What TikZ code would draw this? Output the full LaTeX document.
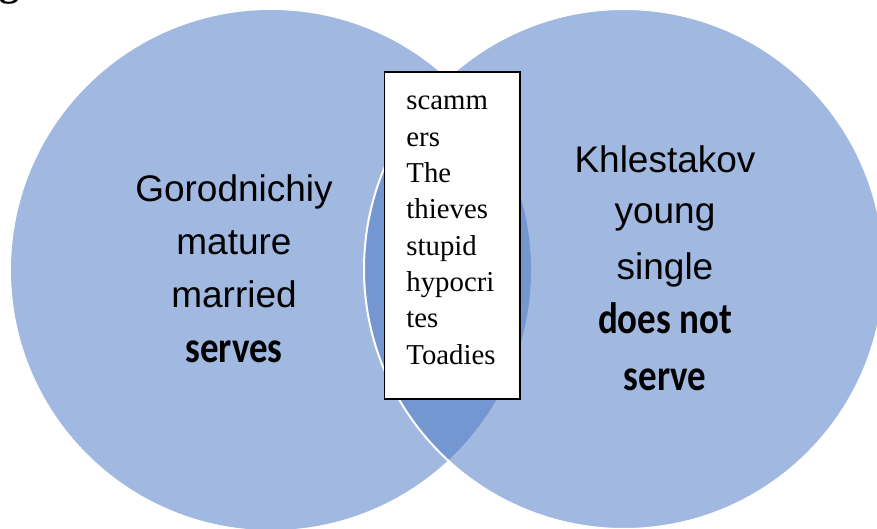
\documentclass[tikz,border=0pt]{standalone}
\usepackage{fontspec}
\setmainfont{Liberation Serif}
\newfontfamily\arialfont{Liberation Sans}
\newfontfamily\servefont[FakeStretch=0.84]{Carlito}
\definecolor{venn}{RGB}{161,184,225}
\definecolor{vennlens}{RGB}{116,150,209}
\tikzset{
  word/.style={anchor=base, inner sep=0pt, font=\arialfont\fontsize{18.5}{22}\selectfont},
  boldword/.style={anchor=base, inner sep=0pt, font=\servefont\bfseries\fontsize{22}{26}\selectfont},
  boxword/.style={anchor=base west, inner sep=0pt, font=\fontsize{14.4}{17}\selectfont}
}
\begin{document}
\begin{tikzpicture}[x=0.5pt,y=-0.5pt]
  \useasboundingbox (0,0) rectangle (877,529);
  % two circles and their overlap
  \fill[venn] (271,270) circle (130pt);
  \fill[venn] (624,269) circle (130pt);
  \begin{scope}
    \clip (271,270) circle (130pt);
    \fill[vennlens] (624,269) circle (130pt);
  \end{scope}
  \draw[white, line width=1pt] (624,269) circle (130pt);
  \node[inner sep=0pt, font=\bfseries\fontsize{20}{20}\selectfont, anchor=base] (head) at (9,-4.7) {g};
  % left circle
  \foreach \y/\txt [count=\i] in {201.7/Gorodnichiy, 255/mature, 307.7/married}
    \node[word] (gor\i) at (234,\y) {\txt};
  \node[boldword] (gor4) at (234,362.7) {serves};
  % right circle
  \foreach \y/\txt [count=\i] in {172.7/Khlestakov, 224/young, 279/single}
    \node[word] (khl\i) at (665,\y) {\txt};
  \node[boldword] (khl4) at (665,333.3) {does not};
  \node[boldword] (khl5) at (665,390) {serve};
  % common box
  \node[draw=black, fill=white, line width=0.9pt, minimum width=67.75pt, minimum height=163.5pt] (common) at (452.25,235.5) {};
  \foreach \txt [count=\i] in {scamm, ers, The, thieves, stupid, hypocri, tes, Toadies}
    \node[boxword] (com\i) at (406,{110+36.3*(\i-1)}) {\txt};
\end{tikzpicture}
\end{document}
